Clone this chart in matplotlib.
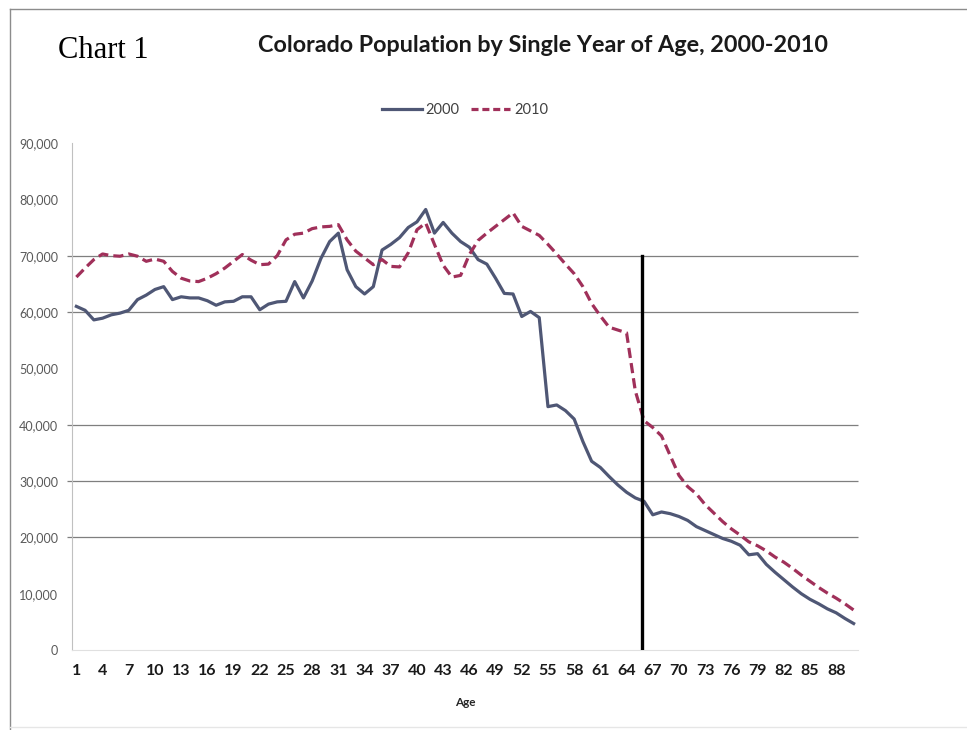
#!/usr/bin/env python3
"""
Colorado population by single year of age, census 2000 vs census 2010.
Solid line = 2000, dashed line = 2010, black bar marks the age-65 cohort.
"""
import matplotlib.pyplot as plt
from matplotlib.lines import Line2D

ages = list(range(1, 91))

pop_2000 = [
    61000, 60300, 58600, 58900, 59500, 59800, 60300, 62200, 63000, 64000,
    64500, 62200, 62700, 62500, 62500, 62000, 61200, 61800, 61900, 62700,
    62700, 60400, 61400, 61800, 61900, 65400, 62500, 65500, 69500, 72500,
    74000, 67500, 64500, 63200, 64500, 71000, 72000, 73200, 75000, 76000,
    78200, 74000, 75900, 74000, 72500, 71500, 69300, 68500, 66000, 63300,
    63200, 59200, 60100, 59000, 43200, 43500, 42500, 41000, 37000, 33500,
    32400, 30800, 29300, 28000, 27000, 26400, 24000, 24500, 24200, 23700,
    23000, 21900, 21200, 20500, 19800, 19300, 18600, 16900, 17100, 15200,
    13800, 12500, 11200, 10000, 9000, 8200, 7300, 6600, 5600, 4700,
]

pop_2010 = [
    66200, 67800, 69300, 70300, 70000, 69900, 70300, 69900, 69000, 69400,
    69000, 67200, 66000, 65500, 65400, 66000, 66800, 67800, 69000, 70200,
    69200, 68400, 68500, 70000, 72800, 73800, 74000, 74800, 75100, 75200,
    75500, 72800, 70800, 69600, 68400, 69300, 68100, 68000, 70500, 74600,
    75800, 72000, 68300, 66200, 66500, 70200, 72700, 74000, 75200, 76400,
    77600, 75200, 74400, 73600, 72000, 70300, 68500, 66800, 64500, 61500,
    59300, 57300, 56800, 56300, 46000, 40700, 39500, 38000, 34500, 31000,
    29000, 27700, 25800, 24300, 22800, 21500, 20400, 19200, 18500, 17600,
    16500, 15600, 14500, 13300, 12200, 11100, 10100, 9200, 8200, 7100,
]

tick_ages = ages[::3]
grid_levels = [20000, 30000, 40000, 60000, 70000]
y_ticks = list(range(0, 90001, 10000))

# baby-boom marker: the vertical bar drawn at age 65
marker_age = 65.8
marker_top = 70000

C2000 = '#4f5775'
C2010 = '#a0305a'
SANS = 'Lato'

fig = plt.figure(figsize=(9.67, 7.3), dpi=100)
ax = fig.add_axes([72 / 967, 1 - 650 / 730, 786 / 967, 507 / 730])

ax.hlines(grid_levels, -0.1, 90.5, colors='#7f7f7f', lw=0.9, clip_on=False, zorder=1)

ax.plot(ages, pop_2000, color=C2000, lw=2.3, solid_joinstyle='round', zorder=3)
ax.plot(ages, pop_2010, color=C2010, lw=2.3, dashes=(3.2, 1.6), zorder=3)
ax.plot([marker_age, marker_age], [0, marker_top], color='black', lw=2.4, zorder=4)

ax.set_xlim(0.5, 90.5)
ax.set_ylim(0, 90000)

ax.set_yticks(y_ticks)
ax.set_yticklabels([f'{v:,}' for v in y_ticks], family=SANS, fontsize=9, color='#595959')
ax.set_xticks(tick_ages)
ax.set_xticklabels([str(a) for a in tick_ages], family=SANS, fontsize=11.5,
                   fontweight='bold', color='#1a1a1a')
ax.tick_params(axis='y', length=0, pad=10)
ax.tick_params(axis='x', length=0, pad=10)

for s in ('top', 'right'):
    ax.spines[s].set_visible(False)
ax.spines['left'].set_color('#c0c0c0')
ax.spines['bottom'].set_color('#e0e0e0')

fig.text(465 / 967, 1 - 703 / 730, 'Age', family=SANS, fontsize=8.5, fontweight='bold',
         color='#262626', ha='center', va='center')

fig.text(58 / 967, 1 - 50 / 730, 'Chart 1', family='Liberation Serif', fontsize=22,
         ha='left', va='center')
fig.text(543 / 967, 1 - 45 / 730, 'Colorado Population by Single Year of Age, 2000-2010',
         family=SANS, fontsize=16.8, fontweight='bold', color='#1a1a1a', ha='center', va='center')

handles = [Line2D([], [], color=C2000, lw=2.3),
           Line2D([], [], color=C2010, lw=2.3, dashes=(2.2, 1.2))]
fig.legend(handles, ['2000', '2010'], loc='center', bbox_to_anchor=(465 / 967, 1 - 110 / 730),
           ncol=2, frameon=False, handlelength=2.7, handletextpad=0.25, columnspacing=0.8,
           prop={'family': SANS, 'size': 10.5}, labelcolor='#404040')

# page frame around the chart
fig.add_artist(Line2D([10 / 967, 10 / 967], [0, 1 - 9 / 730], color='#8c8c8c', lw=1.0))
fig.add_artist(Line2D([10 / 967, 1], [1 - 9 / 730, 1 - 9 / 730], color='#8c8c8c', lw=1.0))
fig.add_artist(Line2D([10 / 967, 1], [1 - 727 / 730, 1 - 727 / 730], color='#e6e6e6', lw=1.0))

fig.savefig('out.png', dpi=100)
